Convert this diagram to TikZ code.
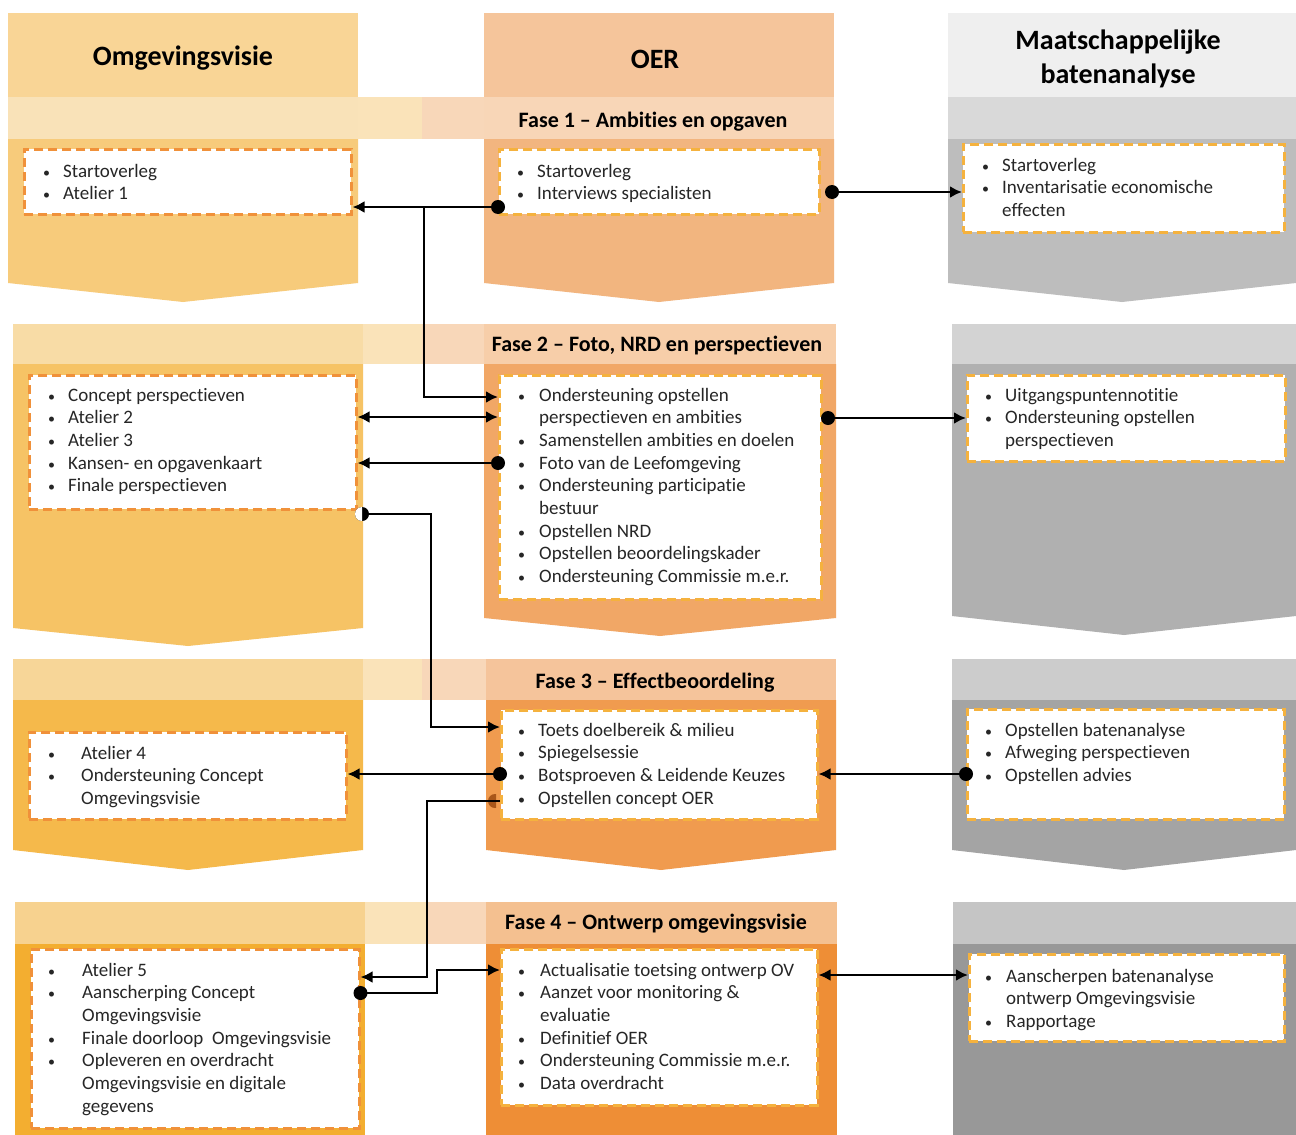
\documentclass[tikz,border=0pt]{standalone}
\usepackage{fontspec}
\setmainfont{Carlito}[Ligatures=NoCommon]
\usetikzlibrary{arrows.meta}
% column 1 (yellow)
\definecolor{cAh}{HTML}{F9D596}
\definecolor{cAband1}{HTML}{F9E2B8}
\definecolor{cAband2}{HTML}{F8DCA6}
\definecolor{cAband3}{HTML}{F7D698}
\definecolor{cAband4}{HTML}{F7D28F}
\definecolor{cAp1}{HTML}{F7CB7B}
\definecolor{cAp2}{HTML}{F6C365}
\definecolor{cAp3}{HTML}{F5B94B}
\definecolor{cAp4}{HTML}{F3AE30}
% gap between columns 1 and 2
\definecolor{gapY}{HTML}{FAE3B9}
\definecolor{gapP}{HTML}{F8D7B9}
% column 2 (orange)
\definecolor{cBh}{HTML}{F5C59B}
\definecolor{cBband1}{HTML}{F8D6B7}
\definecolor{cBband2}{HTML}{F7CEA9}
\definecolor{cBband3}{HTML}{F5C49B}
\definecolor{cBband4}{HTML}{F4C090}
\definecolor{cBp1}{HTML}{F2B57F}
\definecolor{cBp2}{HTML}{F1A766}
\definecolor{cBp3}{HTML}{F09B4F}
\definecolor{cBp4}{HTML}{EE8E36}
% column 3 (grey)
\definecolor{cCh}{HTML}{EFEFEF}
\definecolor{cCband1}{HTML}{D9D9D9}
\definecolor{cCband2}{HTML}{D3D3D3}
\definecolor{cCband3}{HTML}{CCCCCC}
\definecolor{cCband4}{HTML}{C5C5C5}
\definecolor{cCp1}{HTML}{BDBDBD}
\definecolor{cCp2}{HTML}{B0B0B0}
\definecolor{cCp3}{HTML}{A4A4A4}
\definecolor{cCp4}{HTML}{989898}
% borders / text
\definecolor{dashA}{HTML}{F0913A}
\definecolor{dashB}{HTML}{F5B23E}
\definecolor{textc}{HTML}{262626}
\definecolor{halfdot}{HTML}{A8561A}

\newcommand\chev[7]{\fill[#7] (#1,#3) -- (#2,#3) -- (#2,#4) -- (#5,#6) -- (#1,#4) -- cycle;}
\newcommand\blist[2]{\begin{tabular}[t]{@{}p{#1}@{}l@{}}#2\end{tabular}}
\newcommand\bi{{\fontsize{14}{14}\selectfont\textbullet}&}

\begin{document}
\begin{tikzpicture}[x=1pt,y=-1pt,
  cbox/.style={draw=#1, fill=white, line width=2.5pt, dash pattern=on 9pt off 5pt,
     rectangle, inner sep=0pt, anchor=north west},
  cbox/.default=dashB,
  txt/.style={anchor=base west, inner sep=0pt, text=textc, font=\fontsize{19}{22.7}\selectfont},
  head/.style={inner sep=0pt, align=center, text=black, font=\fontsize{28}{33.5}\selectfont\bfseries},
  fase/.style={inner sep=0pt, text=black, font=\fontsize{22}{26}\selectfont\bfseries},
  con/.style={line width=2.8pt, draw=black},
  arr/.style={con, -{Latex[length=12pt,width=12pt]}},
  darr/.style={con, {Latex[length=12pt,width=12pt]}-{Latex[length=12pt,width=12pt]}},
]
\useasboundingbox (0,0) rectangle (1296,1135);
\fill[white] (0,0) rectangle (1296,1135);

% ---------------- headers ----------------
\fill[cAh] (8,13) rectangle (358,97);
\fill[cBh] (484,13) rectangle (834,97);
\fill[cCh] (948,13) rectangle (1296,97);
\node[head] (h1) at (183,58) {Omgevingsvisie};
\node[head] (h2) at (655,59) {OER};
\node[head] (h3) at (1118,59) {Maatschappelijke\\batenanalyse};

% ---------------- phase 1 ----------------
\fill[cAband1] (8,97) rectangle (358,139);
\fill[gapY] (358,97) rectangle (422,139);
\fill[gapP] (422,97) rectangle (484,139);
\fill[cBband1] (484,97) rectangle (834,139);
\fill[cCband1] (948,97) rectangle (1296,139);
\chev{8}{358}{139}{283}{183}{302}{cAp1}
\chev{484}{834}{139}{283}{659}{302}{cBp1}
\chev{948}{1296}{139}{283}{1122}{302}{cCp1}
\node[fase] (f1) at (653,122) {Fase 1 -- Ambities en opgaven};

% ---------------- phase 2 ----------------
\fill[cAband2] (13,324) rectangle (363,364);
\fill[gapY] (363,324) rectangle (422,364);
\fill[gapP] (422,324) rectangle (484,364);
\fill[cBband2] (484,324) rectangle (836,364);
\fill[cCband2] (952,324) rectangle (1296,364);
\chev{13}{363}{364}{628}{188}{646}{cAp2}
\chev{484}{836}{364}{618}{660}{636}{cBp2}
\chev{952}{1296}{364}{616}{1124}{635}{cCp2}
\node[fase] (f2) at (657,346) {Fase 2 -- Foto, NRD en perspectieven};

% ---------------- phase 3 ----------------
\fill[cAband3] (13,659) rectangle (363,700);
\fill[gapY] (363,659) rectangle (422,700);
\fill[gapP] (422,659) rectangle (486,700);
\fill[cBband3] (486,659) rectangle (836,700);
\fill[cCband3] (952,659) rectangle (1296,700);
\chev{13}{363}{700}{850}{188}{870}{cAp3}
\chev{486}{836}{700}{850}{661}{870}{cBp3}
\chev{952}{1296}{700}{850}{1124}{870}{cCp3}
\node[fase] (f3) at (655,683) {Fase 3 -- Effectbeoordeling};

% ---------------- phase 4 ----------------
\fill[cAband4] (15,902) rectangle (365,944);
\fill[gapY] (365,902) rectangle (428,944);
\fill[gapP] (428,902) rectangle (486,944);
\fill[cBband4] (486,902) rectangle (837,944);
\fill[cCband4] (953,902) rectangle (1296,944);
\fill[cAp4] (15,944) rectangle (365,1135);
\fill[cBp4] (486,944) rectangle (837,1135);
\fill[cCp4] (953,944) rectangle (1296,1135);
\node[fase] (f4) at (656,924) {Fase 4 -- Ontwerp omgevingsvisie};

% half-hidden dot behind box b32
\begin{scope}
  \clip (486,790) rectangle (496,812);
  \fill[halfdot] (495,801) circle (7pt);
\end{scope}

% ---------------- content boxes ----------------
\node[cbox=dashA, minimum width=327pt, minimum height=65pt]  (b11) at (23,148) {};
\node[cbox, minimum width=320pt, minimum height=65pt]        (b12) at (498,148) {};
\node[cbox, minimum width=321pt, minimum height=88pt]        (b13) at (962,143) {};
\node[cbox=dashA, minimum width=327pt, minimum height=134pt] (b21) at (28,374) {};
\node[cbox, minimum width=322pt, minimum height=224pt]       (b22) at (498,374) {};
\node[cbox, minimum width=318pt, minimum height=86pt]        (b23) at (966,374) {};
\node[cbox=dashA, minimum width=317pt, minimum height=87pt]  (b31) at (28,731) {};
\node[cbox, minimum width=316pt, minimum height=109pt]       (b32) at (500,709) {};
\node[cbox, minimum width=317pt, minimum height=110pt]       (b33) at (966,708) {};
\node[cbox=dashA, minimum width=328pt, minimum height=179pt] (b41) at (30,948) {};
\node[cbox, minimum width=316pt, minimum height=156pt]       (b42) at (500,948) {};
\node[cbox, minimum width=315pt, minimum height=87pt]        (b43) at (968,953) {};

% ---------------- texts ----------------
\node[txt] (t11) at (43,177) {\blist{20pt}{\bi Startoverleg\\ \bi Atelier 1}};
\node[txt] (t12) at (517,177) {\blist{20pt}{\bi Startoverleg\\ \bi Interviews specialisten}};
\node[txt] (t13) at (982,171) {\blist{20pt}{\bi Startoverleg\\ \bi Inventarisatie economische\\ & effecten}};
\node[txt] (t21) at (48,401) {\blist{20pt}{\bi Concept perspectieven\\ \bi Atelier 2\\ \bi Atelier 3\\ \bi Kansen- en opgavenkaart\\ \bi Finale perspectieven}};
\node[txt] (t22) at (518,401) {\blist{21pt}{\bi Ondersteuning opstellen\\ & perspectieven en ambities\\ \bi Samenstellen ambities en doelen\\ \bi Foto van de Leefomgeving\\ \bi Ondersteuning participatie\\ & bestuur\\ \bi Opstellen NRD\\ \bi Opstellen beoordelingskader\\ \bi Ondersteuning Commissie m.e.r.}};
\node[txt] (t23) at (985,401) {\blist{20pt}{\bi Uitgangspuntennotitie\\ \bi Ondersteuning opstellen\\ & perspectieven}};
\node[txt] (t31) at (48,759) {\blist{33pt}{\bi Atelier 4\\ \bi Ondersteuning Concept\\ & Omgevingsvisie}};
\node[txt] (t32) at (518,736) {\blist{20pt}{\bi Toets doelbereik \& milieu\\ \bi Spiegelsessie\\ \bi Botsproeven \& Leidende Keuzes\\ \bi Opstellen concept OER}};
\node[txt] (t33) at (985,736) {\blist{20pt}{\bi Opstellen batenanalyse\\ \bi Afweging perspectieven\\ \bi Opstellen advies}};
\node[txt] (t41) at (48,976) {\blist{34pt}{\bi Atelier 5\\ \bi Aanscherping Concept\\ & Omgevingsvisie\\ \bi Finale doorloop\ \ Omgevingsvisie\\ \bi Opleveren en overdracht\\ & Omgevingsvisie en digitale\\ & gegevens}};
\node[txt] (t42) at (518,976) {\blist{22pt}{\bi Actualisatie toetsing ontwerp OV\\ \bi Aanzet voor monitoring \&\\ & evaluatie\\ \bi Definitief OER\\ \bi Ondersteuning Commissie m.e.r.\\ \bi Data overdracht}};
\node[txt] (t43) at (985,982) {\blist{21pt}{\bi Aanscherpen batenanalyse\\ & ontwerp\ Omgevingsvisie\\ \bi Rapportage}};

% ---------------- connectors ----------------
\coordinate (d2) at (832,192);
\coordinate (d5) at (828,418);
\coordinate (d6) at (362,514);

% phase 1
\draw[arr] (b12.west |- 0,207) -- (b11.east |- 0,207);
\draw[arr] (424,207) -- (424,397) -- (b22.west |- 0,397);
\fill (b12.west |- 0,207) circle (7pt);
\draw[arr] (d2) -- (b13.west |- d2);
\fill (d2) circle (7pt);

% phase 2
\draw[darr] (b21.east |- 0,417) -- (b22.west |- 0,417);
\draw[arr] (b22.west |- 0,463) -- (b21.east |- 0,463);
\fill (b22.west |- 0,463) circle (7pt);
\draw[arr] (d5) -- (b23.west |- d5);
\fill (d5) circle (7pt);
\draw[arr] (d6) -- (431,514) |- (b32.west |- 0,727);
\fill (d6) circle (7pt);
\begin{scope}
  \clip (354,505) rectangle (362,523);
  \fill[white] (d6) circle (7pt);
\end{scope}

% phase 3
\draw[arr] (b32.west |- 0,774) -- (b31.east |- 0,774);
\fill (b32.west |- 0,774) circle (7pt);
\draw[arr] (b33.west |- 0,774) -- (b32.east |- 0,774);
\fill (b33.west |- 0,774) circle (7pt);
\draw[arr] (b32.west |- 0,801) -- (427,801) |- (b41.east |- 0,977);

% phase 4
\draw[arr] (b41.east |- 0,993) -- (437,993) |- (b42.west |- 0,970);
\fill (b41.east |- 0,993) circle (7pt);
\draw[darr] (b42.east |- 0,975) -- (b43.west |- 0,975);
\end{tikzpicture}
\end{document}
